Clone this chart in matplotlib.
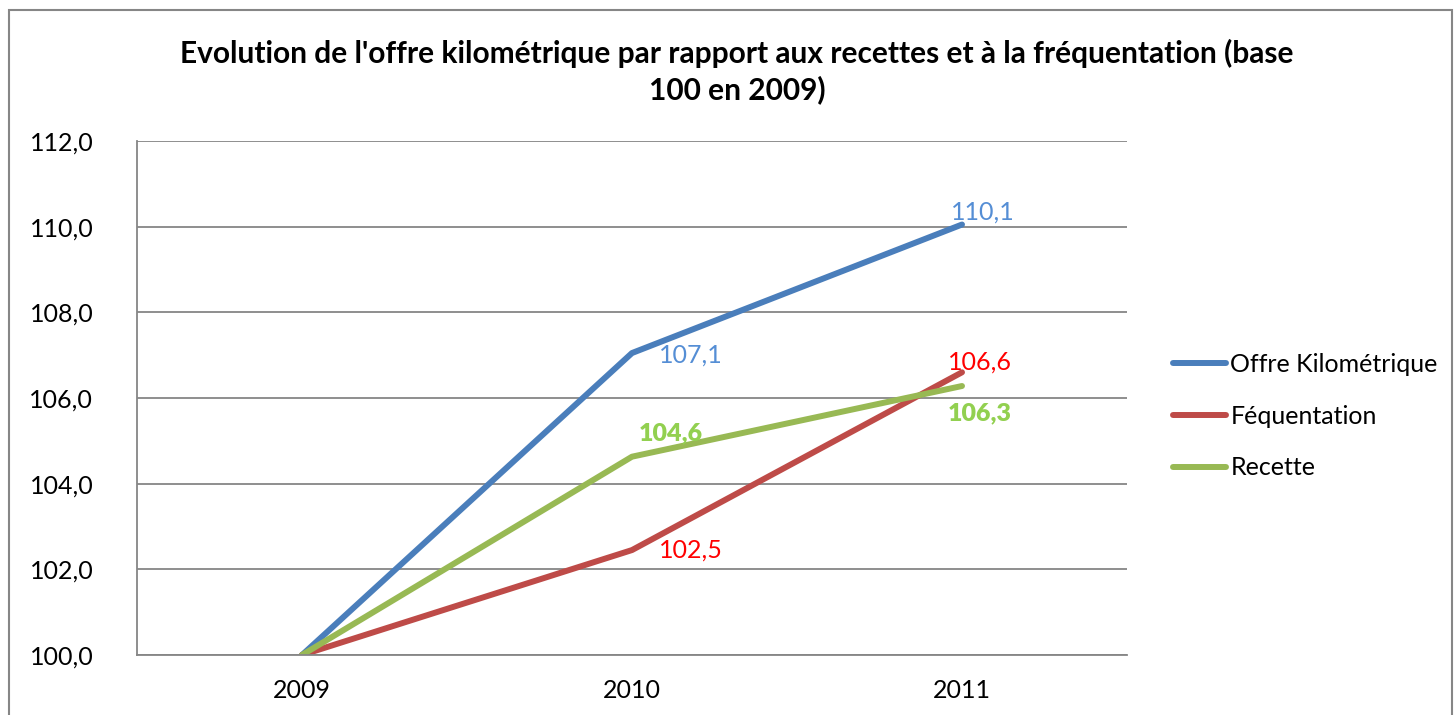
import matplotlib.pyplot as plt
from matplotlib.patches import Rectangle

plt.rcParams['font.family'] = ['Lato', 'DejaVu Sans']

years = ["2009", "2010", "2011"]
offre = [100.0, 107.05, 110.05]
frequentation = [100.0, 102.45, 106.6]
recette = [100.0, 104.63, 106.28]

offre_labels = ["", "107,1", "110,1"]
freq_labels = ["", "102,5", "106,6"]
recette_labels = ["", "104,6", "106,3"]

yticks = [100, 102, 104, 106, 108, 110, 112]

fig = plt.figure(figsize=(14.56, 7.15), dpi=100)
ax = fig.add_axes([137 / 1456, 60 / 715, 990 / 1456, 514 / 715])

# outer chart border
fig.patches.append(Rectangle((9 / 1456, -0.05), 1443 / 1456, 1.05 - 10 / 715,
                             transform=fig.transFigure, fill=False,
                             edgecolor="#868686", linewidth=1.5))

x = range(len(years))
ax.plot(x, offre, color="#4A7EBB", lw=4.3, label="Offre Kilométrique", solid_capstyle="round")
ax.plot(x, frequentation, color="#BE4B48", lw=4.3, label="Féquentation", solid_capstyle="round")
ax.plot(x, recette, color="#98B954", lw=4.3, label="Recette", solid_capstyle="round")

ax.set_xlim(-0.5, 2.5)
ax.set_ylim(100, 112)
ax.set_yticks(yticks)
ax.set_yticklabels([f"{v:.1f}".replace(".", ",") for v in yticks])
ax.set_xticks(list(x))
ax.set_xticklabels(years)
ax.tick_params(length=0, labelsize=18, pad=17)
ax.tick_params(axis="y", pad=31.5)
ax.grid(axis="y", color="#868686", lw=1.3)
ax.set_axisbelow(True)
for s in ["top", "right"]:
    ax.spines[s].set_visible(False)
for s in ["left", "bottom"]:
    ax.spines[s].set_color("#868686")
    ax.spines[s].set_linewidth(1.3)

# data labels (pixel offsets from the point)
offs = {
    "o": [None, (59, -2), (21, 12)],
    "f": [None, (59, 0), (18, 10)],
    "r": [None, (39, 23), (18, -27)],
}
for vals, labs, key, col, wt in [
    (offre, offre_labels, "o", "#558ED5", "normal"),
    (frequentation, freq_labels, "f", "#FF0000", "normal"),
    (recette, recette_labels, "r", "#92D050", "heavy"),
]:
    for i, (v, lab) in enumerate(zip(vals, labs)):
        if lab:
            ax.annotate(lab, (i, v), xytext=offs[key][i], textcoords="offset pixels",
                        ha="center", va="center", color=col, fontsize=18, fontweight=wt)

fig.text(737 / 1456, 1 - 72 / 715,
         "Evolution de l'offre kilométrique par rapport aux recettes et à la fréquentation (base\n100 en 2009)",
         ha="center", va="center", fontsize=21.5, fontweight="bold", linespacing=1.3)

leg = fig.legend(loc="center left", bbox_to_anchor=(1163 / 1456, 1 - 416 / 715), frameon=False,
                 fontsize=18, handlelength=2.1, handletextpad=0.2, labelspacing=1.15,
                 borderaxespad=0)

fig.savefig("out.png", dpi=100)
